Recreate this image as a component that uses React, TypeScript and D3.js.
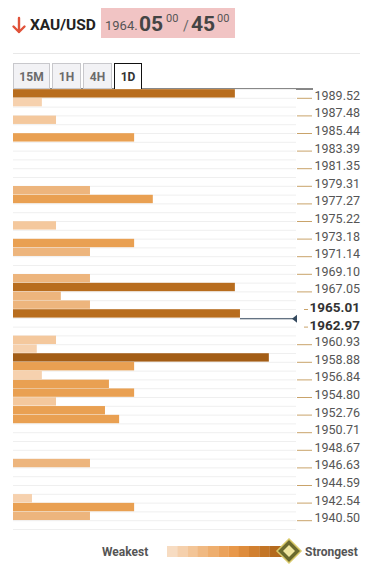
import React from "react";
import * as d3 from "d3";

const levelLabels = [
  "1989.52", "1987.48", "1985.44", "1983.39", "1981.35", "1979.31", "1977.27",
  "1975.22", "1973.18", "1971.14", "1969.10", "1967.05", "1965.01", "1962.97",
  "1960.93", "1958.88", "1956.84", "1954.80", "1952.76", "1950.71", "1948.67",
  "1946.63", "1944.59", "1942.54", "1940.50",
];
const boldLabels = ["1965.01", "1962.97"];

// bar rows (0 = top row) and confluence strength
const barRows = [0, 1, 3, 5, 11, 12, 15, 17, 18, 21, 22, 23, 24, 25, 28, 29, 30, 31, 32, 33, 34, 35, 36, 37, 42, 46, 47, 48];
const barScores = [7.84, 1.02, 1.52, 4.28, 2.72, 4.94, 1.52, 4.28, 2.72, 2.72, 7.84, 1.69, 2.72, 8.02, 1.52, 0.84, 9.04, 4.28, 1.02, 3.39, 4.28, 1.52, 3.25, 3.75, 2.72, 0.67, 4.28, 2.72];

const currentPrice = 1964.05;
const priceTop = 1990.54;
const priceBottom = 1939.48;
const rowCount = 50;

const tabs = ["15M", "1H", "4H", "1D"];
const activeTab = "1D";

const legendColors = ["#f7dcc2", "#f5d0ac", "#f3c597", "#f0b982", "#eeae6e", "#eba25b", "#e8984a", "#de8c3c", "#d18030", "#c37526", "#b46a1e", "#a55f17"];

export default function App() {
  const W = 376, H = 570;
  const left = 13, right = 296;
  const top = 89, bottom = 529;

  const yBand = d3.scaleBand<number>().domain(d3.range(rowCount)).range([top, bottom]).paddingInner(0.05).paddingOuter(0.02);
  const yPrice = d3.scaleLinear().domain([priceTop, priceBottom]).range([top, bottom]);
  const x = d3.scaleLinear().domain([0, 10]).range([left, right]);
  const color = d3.scaleThreshold<number, string>()
    .domain([1.3, 1.6, 3.0, 6.0, 8.5])
    .range(["#f6d1ae", "#f4c89d", "#edb57d", "#e9a052", "#b86d1e", "#a35d16"]);

  const rowH = (bottom - top) / rowCount;
  const curY = yPrice(currentPrice) + 1.5;
  const curBarIdx = barRows.indexOf(25);
  const curX0 = x(barScores[curBarIdx]);

  const tabXs = [13, 52, 83, 114];
  const tabWs = [36, 28, 28, 27];

  const font = "Roboto, 'Noto Sans', sans-serif";

  return (
    <svg width={W} height={H} style={{ position: "absolute", left: 0, top: 0, background: "#fff" }} fontFamily={font}>
      {/* header */}
      <g>
        <path d="M19 18 L19 32 M13.5 26.5 L19 32 L24.5 26.5" stroke="#e0533a" strokeWidth={2.4} fill="none" strokeLinecap="round" strokeLinejoin="round" />
        <text x={30} y={30} fontSize={15.5} fontWeight={700} fill="#222">XAU/USD</text>
        <rect x={101} y={8} width={134} height={30} fill="#f1c4c4" />
        <text x={105} y={30} fontSize={13} fill="#555">1964.</text>
        <text x={139} y={31} fontSize={21} fontWeight={700} fill="#444">05</text>
        <text x={166} y={22} fontSize={11} fill="#555">00</text>
        <text x={183} y={31} fontSize={14} fill="#666">/</text>
        <text x={191} y={31} fontSize={21} fontWeight={700} fill="#444">45</text>
        <text x={217} y={22} fontSize={11} fill="#555">00</text>
        <line x1={13} x2={360} y1={53.5} y2={53.5} stroke="#e8e8e8" />
      </g>

      {/* tabs */}
      <line x1={13} x2={313} y1={89} y2={89} stroke="#111" strokeWidth={1} />
      {tabs.map((t, i) => {
        const active = t === activeTab;
        return (
          <g key={t}>
            <rect x={tabXs[i] + 0.5} y={63.5} width={tabWs[i]} height={active ? 26 : 25} fill={active ? "#fff" : "#f2f2f5"} stroke={active ? "#111" : "#c8c8cc"} />
            <text x={tabXs[i] + tabWs[i] / 2 + 0.5} y={81} textAnchor="middle" fontSize={12} fontWeight={700} fill={active ? "#333" : "#6b6b6b"}>{t}</text>
          </g>
        );
      })}

      {/* grid */}
      {d3.range(rowCount + 1).map((i) => (
        <line key={"g" + i} x1={left} x2={right} y1={top + i * rowH + 0.5} y2={top + i * rowH + 0.5} stroke="#efefef" />
      ))}

      {/* bars */}
      {barRows.map((r, i) => (
        <rect key={"b" + i} x={left} y={yBand(r)} width={x(barScores[i]) - left} height={yBand.bandwidth()} fill={color(barScores[i])} />
      ))}

      {/* current price */}
      <line x1={curX0} x2={294} y1={curY} y2={curY} stroke="#34495e" strokeWidth={1.2} />
      <path d={`M292 ${curY} L297 ${curY - 4} L297 ${curY + 4} Z`} fill="#34495e" />

      {/* labels */}
      {levelLabels.map((l, k) => {
        const yy = top + (2 * k + 1) * rowH;
        const bold = boldLabels.includes(l);
        return (
          <g key={l}>
            <line x1={bold ? 304 : 297} x2={bold ? 308 : 312} y1={yy + 0.5} y2={yy + 0.5} stroke="#c9a36a" />
            <text x={360} y={yy + (bold ? 3 : 2)} textAnchor="end" fontSize={bold ? 13.5 : 12.5} fontWeight={bold ? 700 : 400} fill={bold ? "#333" : "#555"}>{l}</text>
          </g>
        );
      })}

      {/* legend */}
      <text x={102} y={556} fontSize={12} fontWeight={700} fill="#555">Weakest</text>
      {legendColors.map((c, i) => (
        <rect key={"l" + i} x={167 + i * 10.25} y={546} width={10.5} height={11} fill={c} />
      ))}
      <text x={305} y={556} fontSize={12} fontWeight={700} fill="#555">Strongest</text>
      <g>
        <path d="M289 539 L301 551 L289 563 L277 551 Z" fill="#6b6a2e" stroke="#d9c96a" strokeWidth={1.5} />
        <path d="M289 545 L295 551 L289 557 L283 551 Z" fill="#f0e6a0" />
      </g>
    </svg>
  );
}
